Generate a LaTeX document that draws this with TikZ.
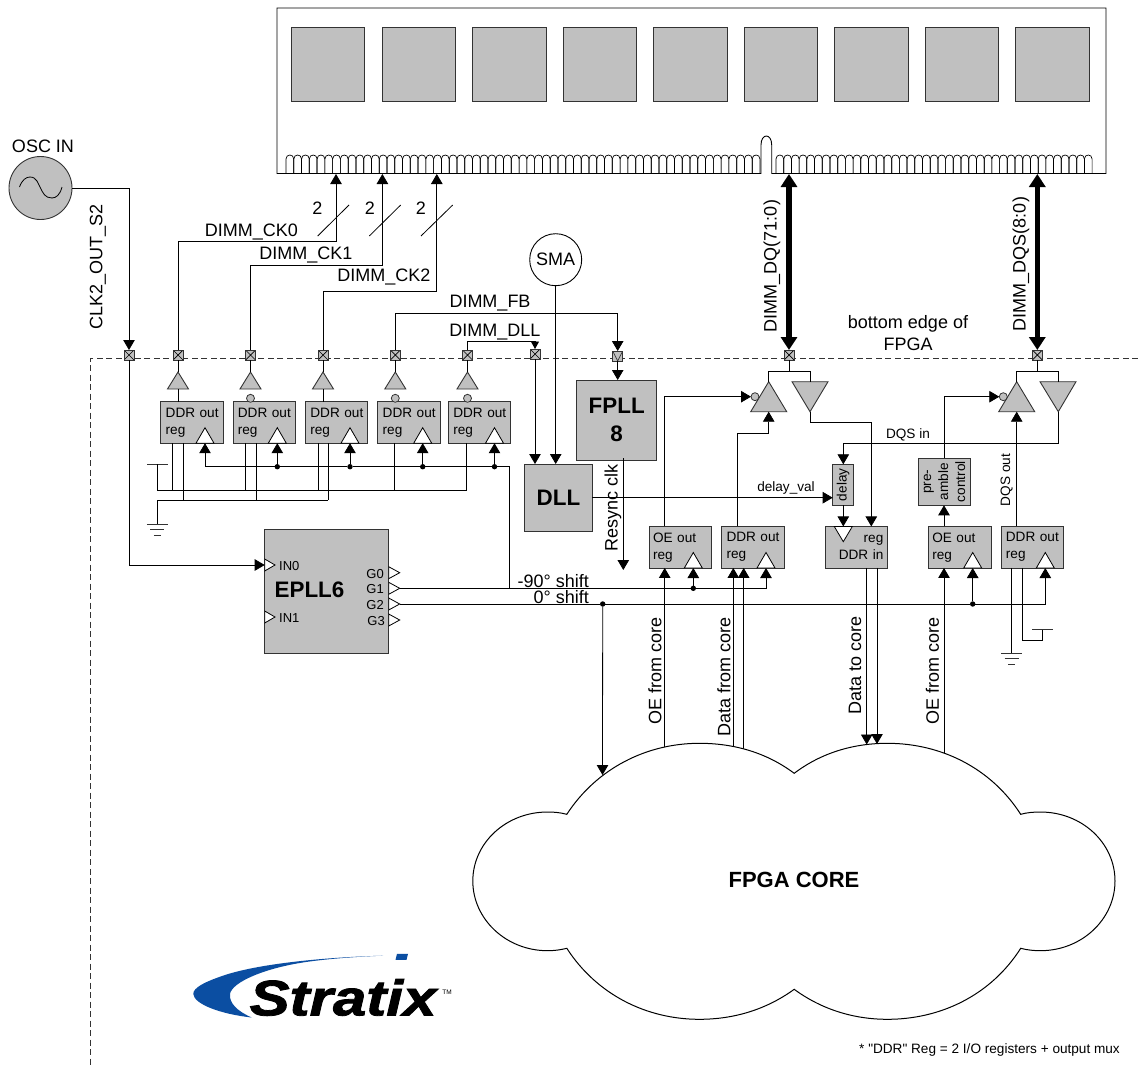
\documentclass[tikz,border=0pt]{standalone}
\usepackage{fontspec}
\setmainfont{Liberation Sans}
\newfontfamily\logofont[BoldItalicFeatures={FakeBold=1.6}]{Liberation Sans}
\newfontfamily\notefont{Liberation Sans}
\usetikzlibrary{arrows.meta,calc}
\definecolor{boxgrey}{HTML}{C0C0C0}
\definecolor{edgegrey}{HTML}{333333}
\definecolor{logoblue}{HTML}{0B4EA2}
\tikzset{
  wire/.style={draw=black,line width=0.8pt},
  arr/.style={wire,-{Triangle[length=10pt,width=11.5pt]}},
  smallarr/.style={wire,-{Triangle[length=7.5pt,width=8pt]}},
  busarr/.style={draw=black,line width=5.4pt,{Triangle[length=13pt,width=16pt]}-{Triangle[length=13pt,width=16pt]}},
  solid box/.style={draw=edgegrey,fill=boxgrey,line width=0.9pt,inner sep=0pt,outer sep=0pt},
  padbox/.style={solid box,minimum size=10pt,path picture={
    \draw[line width=0.7pt,black] (path picture bounding box.north west)--(path picture bounding box.south east)
      (path picture bounding box.north east)--(path picture bounding box.south west);}},
  vpadbox/.style={solid box,minimum size=10pt,path picture={
    \draw[line width=0.7pt,edgegrey] (path picture bounding box.north west)--(path picture bounding box.south)--(path picture bounding box.north east);}},
  ftxt/.style={font=\fontsize{13.6}{17}\selectfont},
  regbox/.style={solid box,ftxt,minimum width=62.3pt,minimum height=41.5pt,align=left,text width=52.6pt,inner xsep=4.85pt},
  oebox/.style={solid box,ftxt,minimum width=62.3pt,minimum height=41.5pt,align=left,text width=55pt,inner xsep=3.65pt},
  inbox/.style={solid box,ftxt,minimum width=62.3pt,minimum height=41.5pt,align=right,text width=54.3pt,inner xsep=4pt},
  bigbox/.style={solid box,font=\fontsize{22.4}{28.5}\selectfont\bfseries,align=center},
  lab/.style={inner sep=0pt,font=\fontsize{18}{22}\selectfont},
  smalllab/.style={inner sep=0pt,ftxt},
  glab/.style={inner sep=0pt,font=\fontsize{13}{15}\selectfont},
  bufshape/.style={draw=edgegrey,fill=boxgrey,line width=0.9pt,line join=miter},
  clkshape/.style={draw=black,fill=white,line width=0.8pt,line join=miter},
  bubble/.style={circle,draw=edgegrey,fill=boxgrey,line width=0.8pt,minimum size=8pt,inner sep=0pt,outer sep=0pt},
  dotnode/.style={circle,fill=black,minimum size=5.4pt,inner sep=0pt,outer sep=0pt},
  chipnode/.style={draw=edgegrey,fill=boxgrey,line width=0.7pt,minimum size=73.5pt,inner sep=0pt,outer sep=0pt},
  grounded/.style={draw=edgegrey,line width=0.9pt},
}
% name, x, base y : clock triangle pointing up
\newcommand{\myclkup}[3]{%
  \draw[clkshape] ({#2-9},#3) -- (#2,{#3-15.5}) -- ({#2+9},#3) -- cycle;
  \coordinate (#1) at (#2,#3);}
% name, x, apex y, base y, half width : buffer
\newcommand{\mybuf}[5]{%
  \draw[bufshape] ({#2-#5},#4) -- (#2,#3) -- ({#2+#5},#4) -- cycle;
  \coordinate (#1-a) at (#2,#3);
  \coordinate (#1-b) at (#2,#4);}
\newcommand{\mygndsym}[2]{%
  \draw[grounded] ({#1-10.5},#2) -- ({#1+10.5},#2) ({#1-7},{#2+5.5}) -- ({#1+7},{#2+5.5}) ({#1-3.5},{#2+11}) -- ({#1+3.5},{#2+11});}
% name, x, y : G output triangle
\newcommand{\mygtri}[3]{%
  \draw[clkshape] (#2,{#3-6}) -- ({#2+11},#3) -- (#2,{#3+6}) -- cycle;
  \coordinate (#1) at ({#2+11},#3);}
\newcommand{\ddrtxt}{\mbox{DDR out}\\reg}
\begin{document}
\begin{tikzpicture}[x=1pt,y=-1pt]
\useasboundingbox (0,0) rectangle (1138,1065);
\fill[white] (0,0) rectangle (1138,1065);

% ---------- FPGA edge
\coordinate (edgeA) at (1138,358);
\coordinate (edgeB) at (90.5,358);
\coordinate (edgeC) at (90.5,1065);
\draw[edgegrey,line width=0.8pt,dash pattern=on 6pt off 3.5pt] (edgeA) -- (edgeB) -- (edgeC);

% ---------- DIMM
\draw[black,line width=0.9pt,fill=white]
  (277,8) -- (1106,8) -- (1106,173.5) -- (771.7,173.5) -- (771.7,145)
  .. controls (771.7,133) and (761,133) .. (761,145) -- (761,173.5) -- (277,173.5) -- cycle;
\foreach \i in {0,...,60}{
  \pgfmathsetmacro{\xa}{286+\i*7.77}
  \pgfmathsetmacro{\xb}{\xa+7.77}
  \draw[black,line width=0.7pt] (\xa,173.5) -- (\xa,159) .. controls (\xa,153.7) and (\xb,153.7) .. (\xb,159) -- (\xb,173.5);
}
\foreach \i in {0,...,40}{
  \pgfmathsetmacro{\xa}{776+\i*7.71}
  \pgfmathsetmacro{\xb}{\xa+7.71}
  \draw[black,line width=0.7pt] (\xa,173.5) -- (\xa,159) .. controls (\xa,153.7) and (\xb,153.7) .. (\xb,159) -- (\xb,173.5);
}
\foreach \i/\x in {1/328,2/418.6,3/509.2,4/599.8,5/690.4,6/781,7/871.2,8/961.8,9/1052.5}{
  \node[chipnode] (chip\i) at (\x,64.5) {};
}
\coordinate (pin0) at (336,174);
\coordinate (pin1) at (382.4,174);
\coordinate (pin2) at (436.8,174);
\coordinate (pinDQ) at (789,174);
\coordinate (pinDQS) at (1037.3,174);

% ---------- Pads
\node[padbox] (pclk) at (129,355) {};
\node[padbox] (p1) at (178,355) {};
\node[padbox] (p2) at (250.5,355) {};
\node[padbox] (p3) at (323,355) {};
\node[padbox] (p4) at (395.3,355) {};
\node[padbox] (p5) at (467.5,355) {};
\node[padbox] (pdll) at (535,354) {};
\node[vpadbox] (pfb) at (617.7,356) {};
\node[padbox] (pdq) at (789,355) {};
\node[padbox] (pdqs) at (1037.3,355) {};

% ---------- Oscillator
\node[circle,draw=edgegrey,fill=boxgrey,line width=0.9pt,minimum size=63pt,inner sep=0pt,outer sep=0pt] (osc) at (40.5,188) {};
\draw[black,line width=0.8pt] (19.5,187) .. controls (22,180) and (26,177) .. (30,177)
  .. controls (37,177) and (38,184) .. (40.5,188) .. controls (43,193) and (45,198) .. (52,198)
  .. controls (56,198) and (60,195) .. (62,187);
\node[lab] (osclab) at (43,146) {OSC IN};
\node[lab,rotate=90] (clklab) at (98,267) {CLK2\_OUT\_S2};

% ---------- SMA
\node[circle,draw=black,line width=0.9pt,fill=white,minimum size=52pt,inner sep=0pt,outer sep=0pt,font=\fontsize{18}{20}\selectfont] (sma) at (555.7,259.7) {SMA};

% ---------- Output registers (clock row)
\node[regbox] (r1) at (192,422.5) {\ddrtxt};
\node[regbox] (r2) at (264.2,422.5) {\ddrtxt};
\node[regbox] (r3) at (336.7,422.5) {\ddrtxt};
\node[regbox] (r4) at (409,422.5) {\ddrtxt};
\node[regbox] (r5) at (479.6,422.5) {\ddrtxt};
\myclkup{c1}{205}{443.2}
\myclkup{c2}{277.3}{443.2}
\myclkup{c3}{350}{443.2}
\myclkup{c4}{422.7}{443.2}
\myclkup{c5}{494.5}{443.2}

% ---------- Buffers
\mybuf{b1}{178}{372}{389}{10.5}
\mybuf{b2}{250.5}{372}{389}{10.5}
\mybuf{b3}{323}{372}{389}{10.5}
\mybuf{b4}{395.3}{372}{389}{10.5}
\mybuf{b5}{467.5}{372}{389}{10.5}
\node[bubble] (bb2) at (250.5,398.3) {};
\node[bubble] (bb4) at (395.3,398.3) {};
\node[bubble] (bb5) at (467.5,398.3) {};
\draw[wire] (p1) -- (b1-a);
\draw[wire] (p2) -- (b2-a);
\draw[wire] (p3) -- (b3-a);
\draw[wire] (p4) -- (b4-a);
\draw[wire] (p5) -- (b5-a);
\draw[wire] (b1-b) -- (b1-b |- r1.north);
\draw[wire] (b3-b) -- (b3-b |- r3.north);

% ---------- DIMM clock nets
\draw[arr] (p1.north) |- (178,241) -| (pin0);
\draw[arr] (p2.north) |- (250.5,265.7) -| (pin1);
\draw[arr] (p3.north) |- (323,291) -| (pin2);
\draw[arr] (p4.north) |- (395.3,313) -- (617.7,313) -- (pfb.north);
\draw[smallarr] (p5.north) |- (467.5,341.4) -- (535,341.4) -- (pdll.north);
\coordinate (s0a) at (317.7,236); \coordinate (s0b) at (349,205);
\coordinate (s1a) at (369.3,236); \coordinate (s1b) at (400.7,205);
\coordinate (s2a) at (421,236); \coordinate (s2b) at (452.7,205);
\draw[wire] (s0a) -- (s0b);
\draw[wire] (s1a) -- (s1b);
\draw[wire] (s2a) -- (s2b);
\node[lab] (n0) at (317.5,208) {2};
\node[lab] (n1) at (370,208) {2};
\node[lab] (n2) at (421,208) {2};
\node[lab] (lck0) at (251.5,232) {DIMM\_CK0};
\node[lab] (lck1) at (306,255) {DIMM\_CK1};
\node[lab] (lck2) at (384,277) {DIMM\_CK2};
\node[lab] (lfb) at (490,303) {DIMM\_FB};
\node[lab] (ldll) at (495,332) {DIMM\_DLL};

% ---------- VCC and GND buses
\coordinate (vcctop) at (157.3,464);
\coordinate (vcc) at (157.3,490);
\coordinate (vccend) at (466.7,490);
\coordinate (gnd) at (157.3,500.3);
\coordinate (gndend) at (328,500.3);
\coordinate (gndsym) at (157.3,524);
\draw[grounded] (147,464) -- (168,464);
\draw[wire] (vcctop) -- (vcc) -- (vccend);
\draw[wire] (gndend) -- (gnd) -- (gndsym);
\mygndsym{157.3}{524}
\foreach \r/\x in {r1/172.7,r2/245.7,r3/318,r4/394.7,r5/466.7}{
  \path (\x,0) coordinate (tmp);
  \draw[wire] (\r.south -| tmp) -- (tmp |- vcc);
}
\foreach \r/\x in {r1/183.3,r2/256,r3/328}{
  \path (\x,0) coordinate (tmp);
  \draw[wire] (\r.south -| tmp) -- (tmp |- gnd);
}

% ---------- Clock distribution to the registers
\coordinate (clkE) at (509.3,466.7);
\coordinate (clkS) at (509.3,588.3);
\node[dotnode] (d2) at (277.3,466.7) {};
\node[dotnode] (d3) at (350,466.7) {};
\node[dotnode] (d4) at (422.7,466.7) {};
\node[dotnode] (d5) at (494.5,466.7) {};
\draw[wire] (clkS) -- (clkE) -- (d5) -- (d4) -- (d3) -- (d2) -- (205,466.7);
\draw[arr] (205,466.7) -- (c1);
\draw[arr] (d2) -- (c2);
\draw[arr] (d3) -- (c3);
\draw[arr] (d4) -- (c4);
\draw[arr] (d5) -- (c5);

% ---------- PLLs and DLL
\node[bigbox,minimum width=80pt,minimum height=80pt] (fpll) at (616.7,420) {FPLL\\8};
\node[bigbox,minimum width=67.6pt,minimum height=67pt] (dll) at (558.5,497.5) {DLL};
\draw[arr] (pfb.south) -- (pfb.south |- fpll.north);
\draw[arr] (pdll.south) -- (pdll.south |- dll.north);
\draw[arr] (sma.south) -- (sma.south |- dll.north);
\coordinate (rsync) at (623.3,570);
\draw[arr] (623.3,458) -- (rsync);
\node[lab,rotate=90] (lrsync) at (613,508) {Resync clk};

% ---------- EPLL
\node[solid box,minimum width=124pt,minimum height=124.3pt] (epll) at (326.7,591.2) {};
\node[inner sep=0pt,font=\fontsize{22.4}{26}\selectfont\bfseries] (epname) at (309.5,590) {EPLL6};
\draw[clkshape] (264.7,559) -- (275,565) -- (264.7,571) -- cycle;
\draw[clkshape] (264.7,611) -- (275,617) -- (264.7,623) -- cycle;
\coordinate (in0) at (264.7,565);
\node[glab,anchor=west] (lin0) at (279,566) {IN0};
\node[glab,anchor=west] (lin1) at (279,618) {IN1};
\mygtri{g0}{388.7}{572.7}
\mygtri{g1}{388.7}{588.3}
\mygtri{g2}{388.7}{604}
\mygtri{g3}{388.7}{620}
\node[glab,anchor=east] (lg0) at (384,574) {G0};
\node[glab,anchor=east] (lg1) at (384,589) {G1};
\node[glab,anchor=east] (lg2) at (384,605) {G2};
\node[glab,anchor=east] (lg3) at (385,621) {G3};
\draw[arr] (osc.east) -- (129,188) -- (pclk.north);
\draw[arr] (pclk.south) |- (in0);

% ---------- Core side registers
\node[oebox] (oe1) at (680.5,547.2) {OE out\\reg};
\node[regbox] (r6) at (752.8,547.2) {\ddrtxt};
\node[inbox] (din) at (856.2,547.2) {reg\\DDR in};
\node[oebox] (oe2) at (959.8,547.2) {OE out\\reg};
\node[regbox] (r7) at (1032.2,547.2) {\ddrtxt};
\myclkup{c6}{693.3}{568}
\myclkup{c7}{766}{568}
\myclkup{c8}{972.7}{568}
\myclkup{c9}{1045.3}{568}
\draw[clkshape] (834.3,526.5) -- (843.3,541.7) -- (852.3,526.5) -- cycle;
\coordinate (c10) at (843.3,526.4);

% ---------- Delay and preamble
\node[solid box,minimum width=20.6pt,minimum height=41pt] (delay) at (843,484.8) {};
\node[smalllab,rotate=90] (ldelay) at (843,484.8) {delay};
\node[solid box,minimum width=52.4pt,minimum height=47pt] (pre) at (944.5,481.8) {};
\node[smalllab,rotate=90,align=center] (lpre) at (944.5,481.8) {pre-\\amble\\control};

% ---------- DQ tristate
\mybuf{t1}{768.7}{381.7}{411.7}{18}
\draw[bufshape] (792,381.7) -- (828,381.7) -- (810,411.7) -- cycle;
\coordinate (t2-a) at (810,411.7);
\coordinate (t2-t) at (810,381.7);
\node[bubble] (bb6) at (755,396.7) {};
\coordinate (dqsplit) at (789,371);
\draw[wire] (pdq.south) -- (dqsplit);
\draw[wire] (t1-a) -- (768.7,371) -- (810,371) -- (t2-t);
\draw[arr] (oe1.north -| 664.7,0) |- (bb6.west);
\draw[arr] (r6.north -| 737.3,0) -- (737.3,433.3) -- (768.7,433.3) -- (t1-b);
\draw[arr] (t2-a) -- (810,422.7) -- (871.3,422.7) -- (din.north -| 871.3,0);

% ---------- DQS tristate
\mybuf{t3}{1016.7}{381.7}{411.7}{18}
\draw[bufshape] (1040,381.7) -- (1076,381.7) -- (1058.3,411.7) -- cycle;
\coordinate (t4-a) at (1058.3,411.7);
\coordinate (t4-t) at (1058.3,381.7);
\node[bubble] (bb7) at (1003.3,396.7) {};
\coordinate (dqssplit) at (1037.3,371);
\draw[wire] (pdqs.south) -- (dqssplit);
\draw[wire] (t3-a) -- (1016.7,371) -- (1058.3,371) -- (t4-t);
\draw[arr] (pre.north -| 944,0) |- (bb7.west);
\draw[arr] (oe2.north -| 944,0) -- (pre.south -| 944,0);
\draw[arr] (r7.north -| 1016.7,0) -- (t3-b);
\draw[arr] (t4-a) -- (1058.3,443.3) -- (843.3,443.3) -- (delay.north -| 843.3,0);
\draw[arr] (delay.south -| 843.3,0) -- (c10);
\coordinate (dvy) at (0,497.7);
\draw[arr] (dll.east |- dvy) -- (delay.west |- dvy);
\node[smalllab] (ldqsin) at (908,435) {DQS in};
\node[smalllab] (ldval) at (786,488) {delay\_val};
\node[smalllab,rotate=90] (ldqsout) at (1006.7,480) {DQS out};

% ---------- Thick DIMM buses
\draw[busarr] (pinDQ) -- (pdq.north);
\draw[busarr] (pinDQS) -- (pdqs.north);
\node[lab,rotate=90] (ldq) at (772,266) {DIMM\_DQ(71:0)};
\node[lab,rotate=90] (ldqs) at (1021,264) {DIMM\_DQS(8:0)};
\node[lab,align=center,font=\fontsize{18}{22}\selectfont] (ledge) at (908,333) {bottom edge of\\FPGA};

% ---------- Lines to and from the core
\coordinate (core1) at (664.7,750);
\coordinate (core2) at (733.3,750);
\coordinate (core3) at (743.7,752);
\coordinate (core4) at (944,756);
\draw[arr] (core1) -- (core1 |- oe1.south);
\draw[arr] (core2) -- (core2 |- r6.south);
\draw[arr] (core3) -- (core3 |- r6.south);
\draw[arr] (core4) -- (core4 |- oe2.south);

% ---------- Cloud
\draw[black,line width=1pt,fill=white]
  (566.8,814.3) .. controls (597,768) and (647,743.3) .. (699.3,743.3)
  .. controls (735,743.3) and (767,753) .. (794.2,773.3)
  .. controls (821,753) and (853,743.3) .. (887.4,743.3)
  .. controls (941,743.3) and (991,768) .. (1020.7,814.3)
  .. controls (1027,812.5) and (1034,812) .. (1040.3,812)
  .. controls (1082,812) and (1115,843) .. (1115,881)
  .. controls (1115,919) and (1082,950.7) .. (1040.3,950.7)
  .. controls (1034,950.7) and (1027,950) .. (1020.7,948.3)
  .. controls (991,995) and (941,1019.3) .. (887.4,1019.3)
  .. controls (853,1019.3) and (821,1009) .. (794.2,989.3)
  .. controls (767,1009) and (735,1019.3) .. (699.3,1019.3)
  .. controls (647,1019.3) and (597,995) .. (566.8,948.3)
  .. controls (560,950) and (554,950.7) .. (547.6,950.7)
  .. controls (506,950.7) and (472.8,919) .. (472.8,881)
  .. controls (472.8,843) and (506,812) .. (547.6,812)
  .. controls (554,812) and (560,812.5) .. (566.8,814.3) -- cycle;
\node[inner sep=0pt,font=\fontsize{22}{26}\selectfont\bfseries] (corelab) at (794,880) {FPGA CORE};
\coordinate (core5) at (866.7,744.5);
\coordinate (core6) at (877,744);
\coordinate (core7) at (602.5,775);
\draw[arr] (din.south -| core5) -- (core5);
\draw[arr] (din.south -| core6) -- (core6);
\node[lab,rotate=90] (loe1) at (655,670.5) {OE from core};
\node[lab,rotate=90] (ldata1) at (724,677) {Data from core};
\node[lab,rotate=90] (ldata2) at (855,665) {Data to core};
\node[lab,rotate=90] (loe2) at (932.5,670.5) {OE from core};

% ---------- Shift nets
\node[dotnode] (d6) at (693.3,588.3) {};
\node[dotnode] (d7) at (972.7,604) {};
\node[dotnode] (d8) at (602.7,604) {};
\draw[wire] (g1) -- (d6);
\draw[arr] (d6) -- (766,588.3) -- (c7);
\draw[arr] (d6) -- (c6);
\draw[wire] (g2) -- (d8) -- (d7);
\draw[arr] (d7) -- (1045.3,604) -- (c9);
\draw[arr] (d7) -- (c8);
\draw[arr] (d8) -- (core7);
\node[lab,anchor=east] (l90) at (589,581.5) {-90° shift};
\node[lab,anchor=east] (l0) at (589,597) {0° shift};

% ---------- DQS register ties
\coordinate (t1a) at (1011.7,653.3);
\coordinate (t2b) at (1022,640);
\coordinate (t2c) at (1042.7,640);
\coordinate (t2d) at (1042.7,629.3);
\draw[wire] (r7.south -| t1a) -- (t1a);
\mygndsym{1011.7}{653.3}
\draw[wire] (r7.south -| t2b) -- (t2b) -- (t2c) -- (t2d);
\draw[grounded] (1032,629.3) -- (1053,629.3);

% ---------- Logo and note
\fill[logoblue] (383,955.7) .. controls (330,957) and (262,963) .. (225,975)
  .. controls (204,982) and (193,988) .. (193.3,994)
  .. controls (194,1004) and (220,1014) .. (251.7,1017.5)
  .. controls (237,1011) and (229,1003) .. (230,994)
  .. controls (232,982) and (265,968) .. (306,962)
  .. controls (330,958.5) and (360,956.5) .. (383,955.7) -- cycle;
\fill[logoblue] (397,953.8) -- (408,953.8) -- (406.5,959.8) -- (395.5,959.8) -- cycle;
\node[inner sep=0pt,anchor=center] (stratix) at (343,997.5) {\scalebox{1.2}[1]{\logofont\fontsize{50}{54}\selectfont\bfseries\itshape Stratix}};
\node[inner sep=0pt,font=\fontsize{6.5}{7}\selectfont] (tm) at (447,992) {TM};
\node[inner sep=0pt,anchor=east,font=\fontsize{13.6}{16}\selectfont\notefont] (note) at (1120,1050) {* "DDR" Reg = 2 I/O registers + output mux};
\end{tikzpicture}
\end{document}
